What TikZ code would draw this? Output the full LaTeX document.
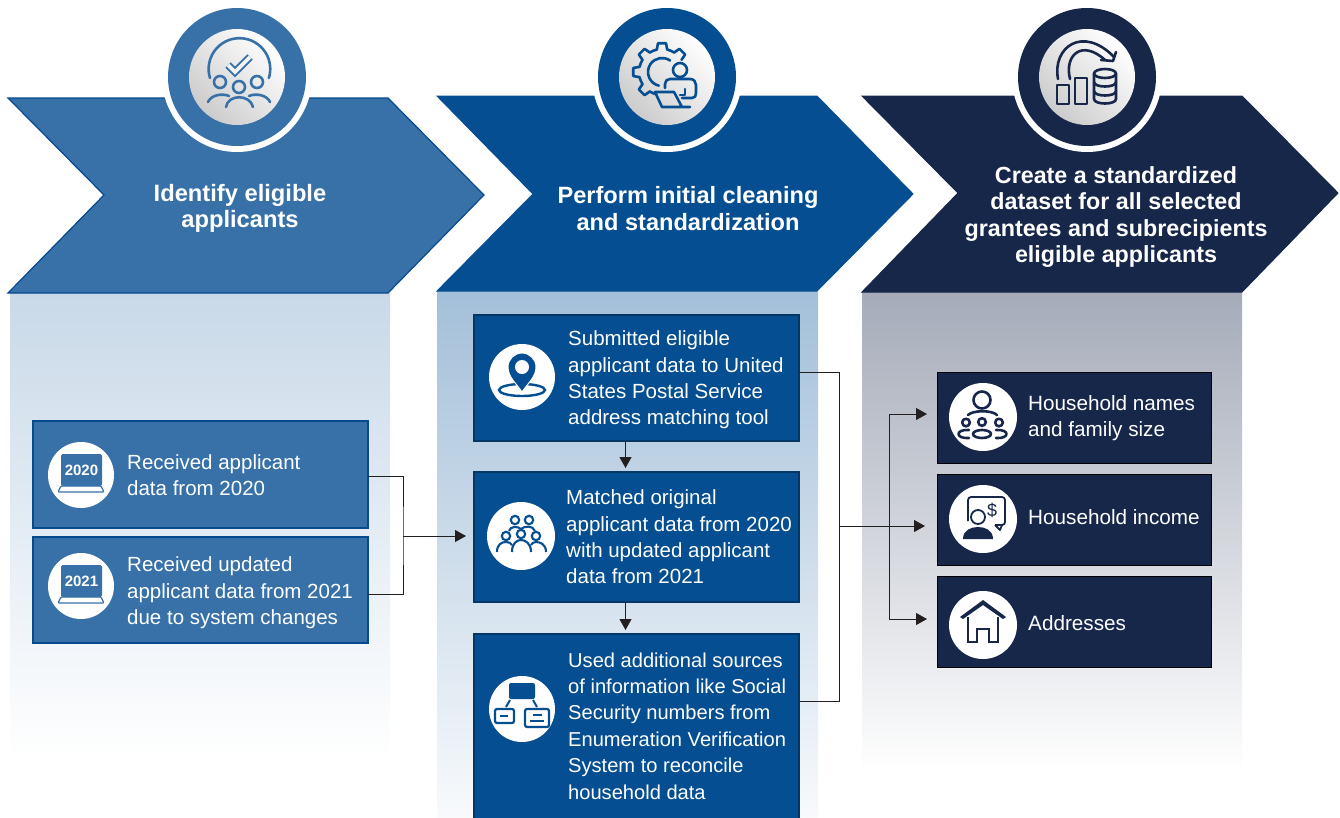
\documentclass[tikz,border=0pt]{standalone}
\usepackage{fontspec}
\setmainfont{Liberation Sans}
\usepackage{tikz}
\usetikzlibrary{arrows.meta}
\usetikzlibrary{calc}

\definecolor{cola}{HTML}{3871A8}
\definecolor{colaedge}{HTML}{05498F}
\definecolor{colb}{HTML}{044E91}
\definecolor{colc}{HTML}{17274A}
\definecolor{tinta}{HTML}{C9D9E8}
\definecolor{tintb}{HTML}{A3BFD9}
\definecolor{tintc}{HTML}{A5ABB9}
\definecolor{arrowink}{HTML}{231F20}

\tikzset{
  headtext/.style={text=white,align=center,font=\fontsize{#1}{26.5}\selectfont\bfseries},
  boxtext/.style={text=white,align=left,anchor=west,inner sep=0pt,font=\fontsize{#1}{26.4}\selectfont},
  boxtext/.default=20.5,
  boxa/.style={draw=colaedge,fill=cola,line width=1.5pt,anchor=north west,inner sep=0pt,outer sep=0pt},
  boxb/.style={draw=colb!70!black,fill=colb,line width=1.5pt,anchor=north west,inner sep=0pt,outer sep=0pt},
  boxc/.style={draw=black,fill=colc,line width=1pt,anchor=north west,inner sep=0pt,outer sep=0pt},
  ring/.style={circle,fill=#1,minimum size=138pt,inner sep=0pt},
  gap/.style={circle,fill=white,minimum size=150pt,inner sep=0pt},
  disc/.style={circle,fill=white,minimum size=66pt,inner sep=0pt},
  link/.style={draw=arrowink,line width=1pt},
  linkto/.style={link,-{Triangle[length=11pt,width=12pt]}},
  icon/.style={line width=2.6pt,line join=round,line cap=round},
  pics/iconcheck/.style={code={
    \draw[icon] (-27,1) arc[start angle=163,end angle=377,radius=30.8];
    \draw[line width=2pt,double=white!90!gray,double distance=3.6pt,line join=miter] (-9,-12) -- (-2,-5) -- (13,-20);
    \foreach \hx/\hy in {-17/5,2/10,20/5} {\draw[icon] (\hx,\hy) circle (6);}
    \draw[icon] (-29,25) .. controls (-26,18) and (-15,16) .. (-8,19);
    \draw[icon] (-11,30) .. controls (-9,17) and (13,17) .. (16,30);
    \draw[icon] (12,19) .. controls (19,16) and (30,18) .. (33,25);
  }},
  pics/icongear/.style={code={
    \begin{scope}[shift={(-5,-5)}]
      \foreach \a in {135,180,225,270,315} {\draw[icon] (\a-13:23) -- (\a-8:29) -- (\a+8:29) -- (\a+13:23);}
      \foreach \a in {135,180,225,270} {\draw[icon] (\a+13:23) arc[start angle=\a+13,delta angle=19,radius=23];}
      \draw[icon] (122:23) arc[start angle=122,delta angle=-16,radius=23];
      \draw[icon] (305:14) arc[start angle=305,end angle=103,radius=14];
    \end{scope}
    \draw[icon] (13,-7) circle (7);
    \draw[icon] (-2,11) -- (-2,7) .. controls (-2,4) and (0,2) .. (3,2) -- (23,2) .. controls (27,2) and (29,5) .. (29,8) -- (29,16) .. controls (29,19) and (28,21) .. (25,21) -- (15,21);
    \draw[icon] (18,12) -- (18,18) -- (13,18);
    \draw[icon] (23,30) -- (-5,30) -- (-12,15) -- (7,15) -- (15,30);
  }},
  pics/iconstack/.style={code={
    \draw[icon] (-29,2) .. controls (-35,-30) and (-4,-52) .. (27,-20);
    \draw[icon] (-17,2) .. controls (-23,-22) and (-5,-38) .. (18,-17);
    \draw[icon] (14,-17) -- (26,-16) -- (29,-25);
    \draw[icon] (-30,8) rectangle (-18,27);
    \draw[icon] (-12,1) rectangle (0,27);
    \draw[icon] (18,-3.5) ellipse (11 and 4.5);
    \draw[icon] (7,-3.5) -- (7,22) .. controls (7,28) and (29,28) .. (29,22) -- (29,-3.5);
    \draw[icon] (7,5) .. controls (7,11) and (29,11) .. (29,5);
    \draw[icon] (7,14) .. controls (7,20) and (29,20) .. (29,14);
  }},
  pics/iconlaptop/.style={code={
    \fill[rounded corners=1.5pt] (-20,-21) rectangle (21,11);
    \node[text=white,font=\fontsize{15}{15}\selectfont\bfseries,inner sep=0pt] (-year) at (0.5,-5) {#1};
    \draw[line width=1.2pt,rounded corners=1pt] (-20,11) -- (20,11) -- (23,17) -- (-23,17) -- cycle;
  }},
  pics/iconpin/.style={code={
    \draw[line width=2.4pt] (0,13) ellipse (23 and 6);
    \fill[draw=white,line width=1pt] (0,15) .. controls (-6,6) and (-14,0) .. (-14,-10) arc[start angle=180,end angle=360,radius=14] .. controls (14,0) and (6,6) .. (0,15) -- cycle;
    \fill[white] (0,-10) circle (7);
  }},
  pics/iconcrowd/.style={code={
    \foreach \hx/\hy in {-6/-16,8/-16,-15/0,0/-2,15/0} {\draw[line width=2.1pt] (\hx,\hy) circle (4.2);}
    \draw[line width=2.1pt] (-12,-5) .. controls (-11,-10) and (-3,-10) .. (0,-7) .. controls (3,-10) and (12,-11) .. (14,-5);
    \draw[line width=2.1pt] (-24,16) .. controls (-24,8) and (-19,6) .. (-15,6) .. controls (-12,6) and (-10,7) .. (-9,9);
    \draw[line width=2.1pt] (-9,16) .. controls (-9,7) and (-4,4) .. (0,4) .. controls (4,4) and (10,7) .. (10,16);
    \draw[line width=2.1pt] (10,9) .. controls (11,7) and (13,6) .. (15,6) .. controls (19,6) and (25,8) .. (25,16);
  }},
  pics/icontree/.style={code={
    \fill[rounded corners=2pt] (-13,-26) rectangle (13,-10);
    \draw[line width=2pt] (-12,-9) -- (-16,-2);
    \draw[line width=2pt] (11,-9) -- (15,-2);
    \draw[line width=2.2pt,rounded corners=2pt] (-27,0) rectangle (-8,14);
    \draw[line width=2.2pt,rounded corners=2pt] (3,0) rectangle (27,18);
    \draw[line width=2pt] (-22,6.5) -- (-14,6.5);
    \draw[line width=2pt] (11,6) -- (20,6);
    \draw[line width=2pt] (8,11.5) -- (22,11.5);
  }},
  pics/iconfamily/.style={code={
    \draw[icon] (-1,-17) circle (8.5);
    \draw[icon] (-15,-2) .. controls (-10,-7) and (9,-7) .. (14,-2);
    \foreach \hx/\hy in {-17/5.5,-1/5,16/5.5} {\draw[icon] (\hx,\hy) circle (3.8);}
    \draw[icon] (-1,17) ellipse (9 and 4);
    \draw[icon] (-14,13) .. controls (-28,12) and (-28,22) .. (-14,21);
    \draw[icon] (13,13) .. controls (27,12) and (27,22) .. (13,21);
  }},
  pics/iconincome/.style={code={
    \draw[line width=1.8pt,rounded corners=3pt] (12,6) -- (22,6) -- (22,-22) -- (-15,-22) -- (-15,2);
    \draw[line width=1.8pt,line join=round] (12,6) -- (17,11) -- (19,6);
    \node[font=\fontsize{18}{18}\selectfont,inner sep=0pt] (-dollar) at (9,-9) {\$};
    \draw[line width=1.8pt,fill=white] (-5,-2) circle (7);
    \fill (-20,20) .. controls (-20,11) and (-12,8) .. (-5,8) .. controls (2,8) and (10,11) .. (10,20) -- cycle;
  }},
  pics/iconhouse/.style={code={
    \fill (-23,-8) -- (0,-25) -- (23,-8) -- (20,-6) -- (0,-20) -- (-20,-6) -- cycle;
    \draw[line width=2pt,line join=miter] (-15,-8) -- (-15,17) -- (-6,17) -- (-6,4) -- (6,4) -- (6,17) -- (15,17) -- (15,-8);
  }}
}

\begin{document}
\begin{tikzpicture}[x=1pt,y=-1pt]
  \useasboundingbox (0,0) rectangle (1340,817);

  %columns
  \shade[top color=tinta,bottom color=white] (10,293) rectangle (390,760);
  \shade[top color=tintb,bottom color=white] (437,291) rectangle (818,860);
  \shade[top color=tintc,bottom color=white] (862,292) rectangle (1242,772);

  %chevrons
  \draw[fill=cola,draw=colaedge,line width=1.2pt] (8,98) -- (388,98) -- (484,195) -- (388,293) -- (8,293) -- (104,195) -- cycle;
  \draw[fill=colb,draw=colb,line width=1pt] (437,96) -- (817,96) -- (913,194) -- (817,291) -- (437,291) -- (533,194) -- cycle;
  \draw[fill=colc,draw=colc,line width=1pt] (862,96) -- (1242,96) -- (1338,193) -- (1242,292) -- (862,292) -- (958,193) -- cycle;

  %rings
  \foreach \cx/\cc/\ic/\ii in {237/cola/iconcheck/a,667/colb/icongear/b,1087/colc/iconstack/c} {
    \node[gap] (gap\ii) at (\cx,77) {};
    \node[ring=\cc] (ring\ii) at (\cx,77) {};
    \shade[shading=axis,left color=white,middle color=black!4,right color=black!20,shading angle=-45] (ring\ii.center) circle (48);
    \pic[color=\cc,at={(ring\ii.center)},name=pic\ii] {\ic};
  }

  \node[headtext=23.7] (heada) at (240,208.5) {Identify eligible\\applicants};
  \node[headtext=23.6] (headb) at (688,208.5) {Perform initial cleaning\\and standardization};
  \node[headtext=23.3] (headc) at (1116,217) {Create a standardized\\dataset for all selected\\grantees and subrecipients\\eligible applicants};

  %left
  \node[boxa,minimum width=335pt,minimum height=107pt] (boxa1) at (33,421) {};
  \node[boxa,minimum width=335pt,minimum height=106pt] (boxa2) at (33,537) {};
  \node[disc] (disca1) at (81,475) {};
  \node[disc] (disca2) at (81,586) {};
  \pic[color=cola,at={(disca1.center)},name=laptopa] {iconlaptop=2020};
  \pic[color=cola,at={(disca2.center)},name=laptopb] {iconlaptop=2021};
  \node[boxtext] (texta1) at (127,475) {Received applicant\\data from 2020};
  \node[boxtext] (texta2) at (127,593) {Received updated\\applicant data from 2021\\due to system changes};

  %middle
  \node[boxb,minimum width=325pt,minimum height=126pt] (boxb1) at (474,315) {};
  \node[boxb,minimum width=325pt,minimum height=130pt] (boxb2) at (474,472) {};
  \node[boxb,minimum width=325pt,minimum height=191pt] (boxb3) at (474,634) {};
  \node[disc] (discb1) at (522,377) {};
  \node[disc,minimum size=68pt] (discb2) at (521,536) {};
  \node[disc] (discb3) at (522,709) {};
  \pic[color=colb,at={(discb1.center)},name=pin] {iconpin};
  \pic[color=colb,at={(discb2.center)},name=crowd] {iconcrowd};
  \pic[color=colb,at={(discb3.center)},name=tree] {icontree};
  \node[boxtext] (textb1) at (568,380) {Submitted eligible\\applicant data to United\\States Postal Service\\address matching tool};
  \node[boxtext] (textb2) at (566,537) {Matched original\\applicant data from 2020\\with updated applicant\\data from 2021};
  \node[boxtext=20.1] (textb3) at (568,726) {Used additional sources\\of information like Social\\Security numbers from\\Enumeration Verification\\System to reconcile\\household data};

  %right
  \node[boxc,minimum width=274pt,minimum height=91pt] (boxc1) at (937,372) {};
  \node[boxc,minimum width=274pt,minimum height=91pt] (boxc2) at (937,474) {};
  \node[boxc,minimum width=274pt,minimum height=91pt] (boxc3) at (937,576) {};
  \node[disc,minimum size=68pt] (discc1) at (983,417) {};
  \node[disc,minimum size=68pt] (discc2) at (983,519) {};
  \node[disc,minimum size=68pt] (discc3) at (983,625) {};
  \pic[color=colc,at={(discc1.center)},name=family] {iconfamily};
  \pic[color=colc,at={(discc2.center)},name=income] {iconincome};
  \pic[color=colc,at={(discc3.center)},name=house] {iconhouse};
  \node[boxtext=20.7] (textc1) at (1028,418) {Household names\\and family size};
  \node[boxtext=20.7] (textc2) at (1028,517) {Household income};
  \node[boxtext=20.7] (textc3) at (1028,623) {Addresses};

  %connectors
  \coordinate (joina) at (403,536);
  \coordinate (joinb) at (839,526);
  \coordinate (joinc) at (889,526);
  \draw[link] ([yshift=-1.5pt]boxa1.east) -| (joina) |- ([yshift=-4pt]boxa2.east);
  \draw[linkto] (joina) -- ([xshift=-8pt]joina -| boxb2.west);
  \draw[linkto] ([xshift=-11pt]boxb1.south) -- ([xshift=-11pt,yshift=4pt]boxb2.north);
  \draw[linkto] ([xshift=-11pt]boxb2.south) -- ([xshift=-11pt,yshift=4pt]boxb3.north);
  \draw[link] ([yshift=6pt]boxb1.east) -| (joinb) |- ([yshift=28pt]boxb3.east);
  \draw[linkto] (joinb) -- ([xshift=-12pt]joinb -| boxc2.west);
  \draw[linkto] (joinc) |- ([xshift=-10pt,yshift=3.5pt]boxc1.west);
  \draw[linkto] (joinc) |- ([xshift=-10pt,yshift=2.5pt]boxc3.west);
\end{tikzpicture}
\end{document}
